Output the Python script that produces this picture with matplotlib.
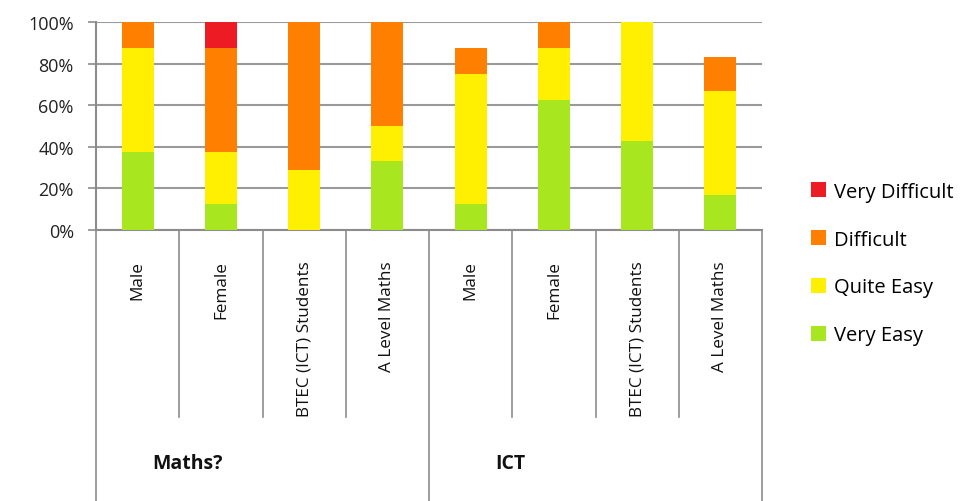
import matplotlib.pyplot as plt
import matplotlib.transforms as mtransforms
from matplotlib.patches import Patch

# --- data ---
categories = ["Male", "Female", "BTEC (ICT) Students", "A Level Maths",
              "Male", "Female", "BTEC (ICT) Students", "A Level Maths"]
groups = ["Maths?", "ICT"]
group_sizes = [4, 4]

very_easy = [37.5, 12.5, 0.0, 33.3, 12.5, 62.5, 42.9, 16.7]
quite_easy = [50.0, 25.0, 28.6, 16.7, 62.5, 25.0, 57.1, 50.0]
difficult = [12.5, 50.0, 71.4, 50.0, 12.5, 12.5, 0.0, 16.7]
very_difficult = [0.0, 12.5, 0.0, 0.0, 0.0, 0.0, 0.0, 0.0]

series = [("Very Easy", very_easy, "#A8E61F"),
          ("Quite Easy", quite_easy, "#FFEF00"),
          ("Difficult", difficult, "#FF7F00"),
          ("Very Difficult", very_difficult, "#ED1C24")]

plt.rcParams['font.family'] = ['Open Sans', 'DejaVu Sans']

fig = plt.figure(figsize=(9.64, 5.02), dpi=100)
ax = fig.add_axes([0.0996, 0.54, 0.6909, 0.414])

x = list(range(len(categories)))
bottom = [0.0] * len(categories)
for name, vals, col in series:
    ax.bar(x, vals, bottom=bottom, width=0.385, color=col, zorder=3)
    bottom = [b + v for b, v in zip(bottom, vals)]

ax.set_xlim(-0.5, len(categories) - 0.5)
ax.set_ylim(0, 100)
ax.set_yticks([0, 20, 40, 60, 80, 100])
ax.set_yticklabels([f"{v}%" for v in [0, 20, 40, 60, 80, 100]], fontsize=13, color="#222222")
ax.yaxis.grid(True, color="#9a9a9a", linewidth=1.5, zorder=0)
ax.set_xticks([])
ax.tick_params(axis='y', length=6, width=1.2, color="#8c8c8c", pad=10)
for s in ["top", "right"]:
    ax.spines[s].set_visible(False)
ax.spines["left"].set_color("#8c8c8c")
ax.spines["left"].set_linewidth(1.5)
ax.spines["bottom"].set_color("#8c8c8c")
ax.spines["bottom"].set_linewidth(1.5)

# multi-level category axis
trans = mtransforms.blended_transform_factory(ax.transData, ax.transAxes)
for i in range(1, len(categories)):
    if i == group_sizes[0]:
        continue
    ax.plot([i - 0.5, i - 0.5], [0, -0.9], color="#8c8c8c", lw=1.2,
            transform=trans, clip_on=False)
for xb in [-0.5, group_sizes[0] - 0.5, len(categories) - 0.5]:
    ax.plot([xb, xb], [0, -1.31], color="#8c8c8c", lw=1.2,
            transform=trans, clip_on=False)

for i, lab in enumerate(categories):
    ax.text(i, -0.145, lab, rotation=90, ha='center', va='top',
            fontsize=12.3, color="#111111", transform=trans)

group_centers = [0.6, 4.48]
for g, c in zip(groups, group_centers):
    ax.text(c, -1.12, g, ha='center', va='center', fontsize=14,
            fontweight='bold', color="#111111", transform=trans)

handles = [Patch(facecolor=col, label=name) for name, vals, col in series][::-1]
fig.legend(handles=handles, loc='center left', bbox_to_anchor=(0.822, 0.473),
           frameon=False, fontsize=14.5, labelspacing=1.38, handlelength=0.75,
           handleheight=0.75, handletextpad=0.4)

fig.savefig("out.png", dpi=100)
